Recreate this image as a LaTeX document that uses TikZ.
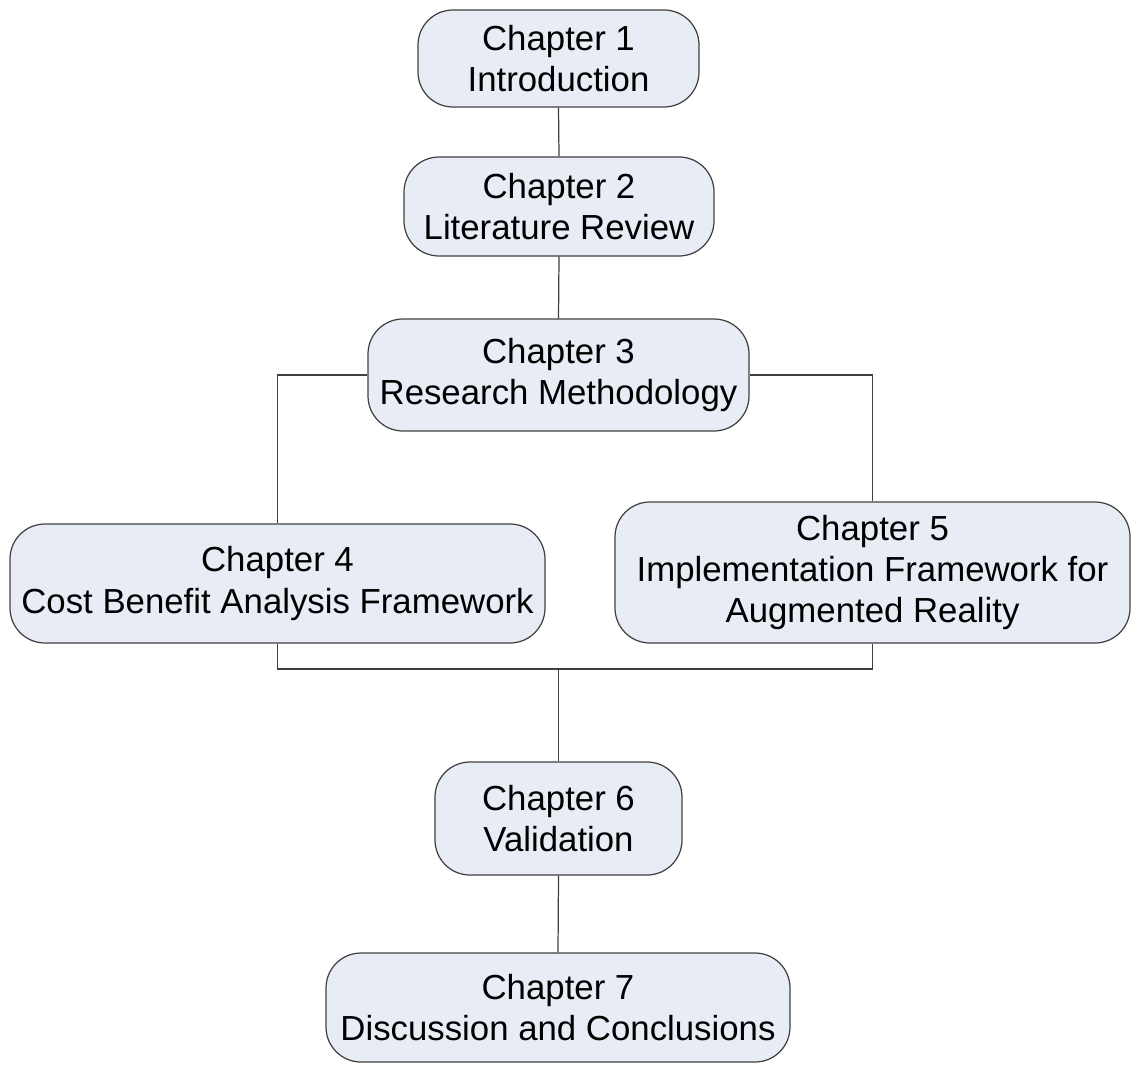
\documentclass[tikz,border=0pt]{standalone}
\usepackage{fontspec}
\setmainfont{Liberation Sans}
\definecolor{boxfill}{HTML}{E8ECF5}
\definecolor{edge}{HTML}{404040}
\begin{document}
\begin{tikzpicture}[x=0.02cm,y=-0.02cm,
  chapter/.style={draw=edge, line width=0.7pt, fill=boxfill, rounded corners=0.7cm,
    align=center, inner sep=0pt, font=\fontsize{19.8}{23.4}\selectfont},
  link/.style={draw=edge, line width=0.7pt}]
\useasboundingbox (0,0) rectangle (1131,1064);

\node[chapter, minimum width=281*0.02cm, minimum height=97*0.02cm] (ch1) at (558.5,58.5) {Chapter 1\\Introduction};
\node[chapter, minimum width=310*0.02cm, minimum height=99*0.02cm] (ch2) at (559,206.5) {Chapter 2\\Literature Review};
\node[chapter, minimum width=381*0.02cm, minimum height=112*0.02cm] (ch3) at (558.5,375) {Chapter 3\\Research Methodology};
\node[chapter, minimum width=535*0.02cm, minimum height=119*0.02cm] (ch4) at (277.5,583.5) {Chapter 4\\Cost Benefit Analysis Framework};
\node[chapter, minimum width=515*0.02cm, minimum height=141*0.02cm] (ch5) at (872.5,572.5) {Chapter 5\\Implementation Framework for\\Augmented Reality};
\node[chapter, minimum width=247*0.02cm, minimum height=113*0.02cm] (ch6) at (558.5,818.5) {Chapter 6\\Validation};
\node[chapter, minimum width=464*0.02cm, minimum height=109*0.02cm] (ch7) at (558,1007.5) {Chapter 7\\Discussion and Conclusions};

\coordinate (merge) at (558.5,669);

\draw[link] (ch1.south) -- (ch2.north);
\draw[link] (ch2.south) -- (ch3.north);
\draw[link] (ch3.west) -| (ch4.north);
\draw[link] (ch3.east) -| (ch5.north);
\draw[link] (ch4.south) |- (merge) -| (ch5.south);
\draw[link] (merge) -- (ch6.north);
\draw[link] (ch6.south) -- (ch7.north);
\end{tikzpicture}
\end{document}
